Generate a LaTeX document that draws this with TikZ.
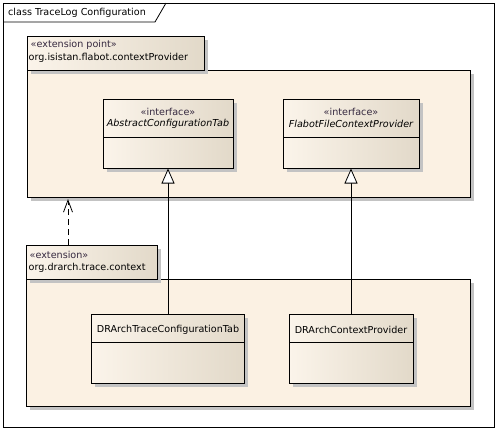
\documentclass[tikz,border=0pt]{standalone}
\usepackage{fontspec}
\setmainfont{DejaVu Sans}
\usetikzlibrary{shadows,arrows.meta}
\definecolor{pkgfill}{HTML}{FBF1E3}
\definecolor{boxl}{HTML}{FBF4EA}
\definecolor{boxr}{HTML}{E2D9C9}
\definecolor{shadowc}{HTML}{C3C3C3}
\definecolor{stereoc}{HTML}{35283F}
\tikzset{
  shd/.style={drop shadow={shadow xshift=3pt, shadow yshift=-3pt, fill=shadowc, opacity=1}},
  pkgbody/.style={draw=black, line width=1pt, fill=pkgfill, shd, anchor=north west, inner sep=0pt},
  pkgtab/.style={draw=black, line width=1pt, left color=boxl, right color=boxr, shd, anchor=north west, inner sep=0pt},
  classbox/.style={draw=black, line width=1pt, left color=boxl, right color=boxr, shd, anchor=north west, inner sep=0pt},
  txt/.style={font=\fontsize{9.6}{11}\selectfont, inner sep=0pt},
  itxt/.style={font=\fontsize{9.6}{11}\selectfont\itshape, inner sep=0pt},
  stereo/.style={txt, text=stereoc},
  lbl/.style={txt, anchor=west},
  conn/.style={line width=0.8pt, draw=black},
  realize/.style={conn, -{Triangle[open, length=15pt, width=13pt, fill=white, line width=0.8pt]}},
  dep/.style={conn, dash pattern=on 6pt off 4pt, -{Straight Barb[length=12pt, width=9pt, line width=0.8pt]}}
}
\begin{document}
\begin{tikzpicture}[x=1pt, y=-1pt]
\useasboundingbox (0,0) rectangle (497,432);
% frame
\node[draw=black, line width=0.8pt, minimum width=491pt, minimum height=424pt, anchor=north west, inner sep=0pt] (frame) at (3,3) {};
\coordinate (tabA) at (3,22);
\coordinate (tabB) at (155,22);
\coordinate (tabC) at (166,3);
\draw[line width=0.8pt] (tabA) -- (tabB) -- (tabC);
\node[lbl] (title) at (8,12.5) {class TraceLog Configuration};

% extension point package
\node[pkgbody, minimum width=443pt, minimum height=127pt] (ep) at (27,70) {};
\node[pkgtab, minimum width=177pt, minimum height=34pt] (eptab) at (27,36) {};
\node[lbl, text=stereoc] (epst) at (30.5,44.5) {«extension point»};
\node[lbl] (epname) at (28.5,57.5) {org.isistan.flabot.contextProvider};

% interfaces
\node[classbox, minimum width=130pt, minimum height=69pt] (act) at (103,99) {};
\draw[line width=1pt] ([yshift=-38pt]act.north west) -- ([yshift=-38pt]act.north east);
\node[stereo] (actst) at (168,112) {«interface»};
\node[itxt] (actname) at (168,124) {AbstractConfigurationTab};

\node[classbox, minimum width=136pt, minimum height=69pt] (ffc) at (283,99) {};
\draw[line width=1pt] ([yshift=-38pt]ffc.north west) -- ([yshift=-38pt]ffc.north east);
\node[stereo] (ffcst) at (351,112) {«interface»};
\node[itxt] (ffcname) at (351,124) {FlabotFileContextProvider};

% extension package
\node[pkgbody, minimum width=444pt, minimum height=127pt] (ex) at (26,279) {};
\node[pkgtab, minimum width=131pt, minimum height=34pt] (extab) at (26,245) {};
\node[lbl, text=stereoc] (exst) at (29.5,255) {«extension»};
\node[lbl] (exname) at (28.5,268) {org.drarch.trace.context};

% classes
\node[classbox, minimum width=153pt, minimum height=69pt] (dtc) at (91,314) {};
\draw[line width=1pt] ([yshift=-28pt]dtc.north west) -- ([yshift=-28pt]dtc.north east);
\node[txt] (dtcname) at (dtc.north |- 0,330) {DRArchTraceConfigurationTab};

\node[classbox, minimum width=124pt, minimum height=69pt] (dcp) at (289,314) {};
\draw[line width=1pt] ([yshift=-28pt]dcp.north west) -- ([yshift=-28pt]dcp.north east);
\node[txt] (dcpname) at (351,330) {DRArchContextProvider};

% connectors
\coordinate (dtctop) at (168,314);
\coordinate (acttip) at (168,168.5);
\draw[realize] (dtctop) -- (acttip);
\coordinate (dcptop) at (351,314);
\coordinate (ffctip) at (351,168.5);
\draw[realize] (dcptop) -- (ffctip);
\coordinate (extop) at (68,245);
\coordinate (eptip) at (68,199);
\draw[dep] (extop) -- (eptip);
\end{tikzpicture}
\end{document}
